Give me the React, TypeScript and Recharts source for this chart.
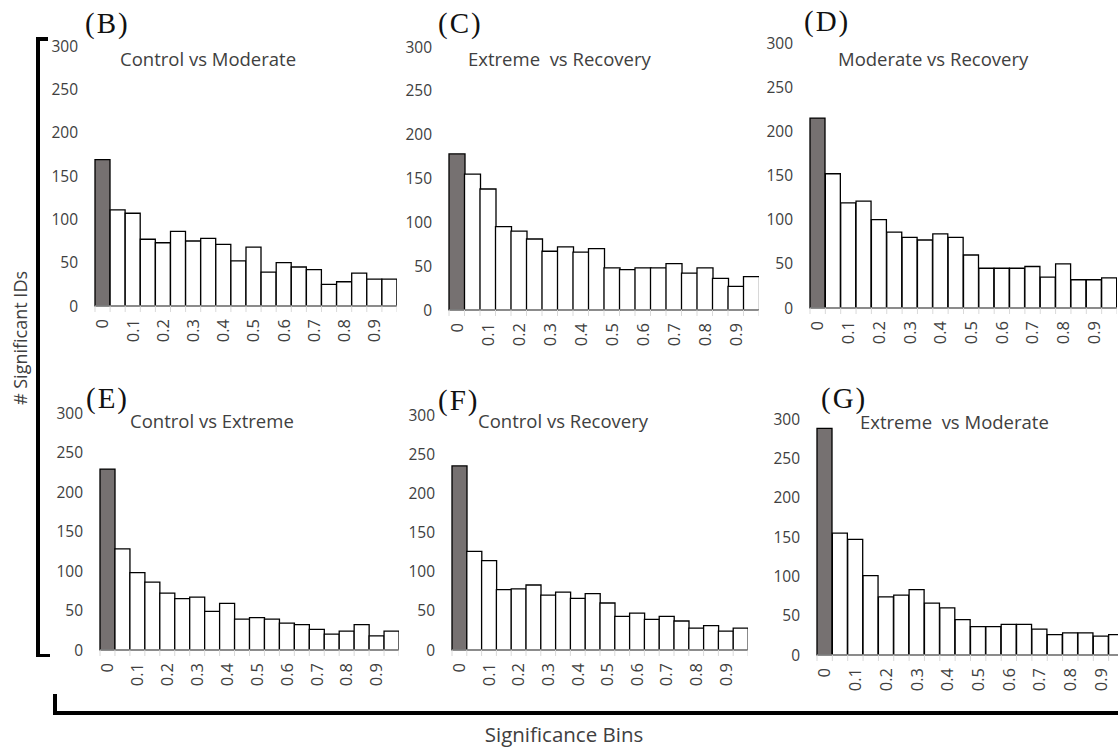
import { Bar, BarChart, Cell, XAxis, YAxis } from "recharts";

const BINS = ["0", "0.05", "0.1", "0.15", "0.2", "0.25", "0.3", "0.35", "0.4", "0.45", "0.5", "0.55", "0.6", "0.65", "0.7", "0.75", "0.8", "0.85", "0.9", "0.95"];
const Y_TICKS = [0, 50, 100, 150, 200, 250, 300];

// counts per significance bin
const controlVsModerate = [169, 111, 107, 77, 73, 86, 75, 78, 71, 52, 68, 39, 50, 45, 42, 25, 28, 38, 31, 31];
const extremeVsRecovery = [178, 155, 138, 95, 90, 81, 67, 72, 66, 70, 48, 46, 48, 48, 53, 42, 48, 36, 27, 38];
const moderateVsRecovery = [215, 152, 119, 121, 100, 86, 80, 77, 84, 80, 60, 45, 45, 45, 47, 35, 50, 32, 32, 34];
const controlVsExtreme = [229, 128, 98, 86, 72, 65, 67, 49, 59, 39, 41, 39, 34, 32, 26, 20, 24, 32, 18, 24];
const controlVsRecovery = [235, 126, 114, 77, 78, 83, 70, 74, 66, 72, 60, 43, 47, 39, 43, 37, 28, 31, 24, 28];
const extremeVsModerate = [288, 155, 147, 101, 74, 76, 83, 66, 60, 45, 36, 36, 39, 39, 33, 26, 28, 28, 24, 26];

const FONT = "'Open Sans', sans-serif";
const TEXT = "#404040";
const Y_W = 60;
const TOP_PAD = 12;
const X_H = 50;

interface PanelProps {
	tag: string;
	title: string;
	values: number[];
	left: number; // plot area left
	right: number;
	top: number; // y of 300
	base: number; // y of 0
	tagPos: [number, number];
	titlePos: [number, number];
}

function Panel({ tag, title, values, left, right, top, base, tagPos, titlePos }: PanelProps) {
	const data = BINS.map((bin, i) => ({ bin, v: values[i] }));
	const plotW = right - left;
	const plotH = base - top;
	const band = plotW / BINS.length;

	const renderTick = (props: any) => {
		const { x, y, index, payload } = props;
		const lx = x - band / 2;
		return (
			<g>
				<line x1={lx} x2={lx} y1={y} y2={y + 6} stroke="#d9d9d9" />
				{index === BINS.length - 1 && (
					<line x1={x + band / 2} x2={x + band / 2} y1={y} y2={y + 6} stroke="#d9d9d9" />
				)}
				{index % 2 === 0 && (
					<text
						x={x}
						y={y + 13}
						dy="0.35em"
						textAnchor="end"
						transform={`rotate(-90, ${x}, ${y + 13})`}
						fontSize={16.5}
						fontFamily={FONT}
						fill={TEXT}
					>
						{payload.value}
					</text>
				)}
			</g>
		);
	};

	return (
		<>
			<div
				style={{
					position: "absolute",
					left: tagPos[0],
					top: tagPos[1],
					fontFamily: "'Liberation Serif', serif",
					fontSize: 29,
					letterSpacing: 2,
					lineHeight: 1,
					color: "#111",
				}}
			>
				{tag}
			</div>
			<div
				style={{
					position: "absolute",
					left: titlePos[0],
					top: titlePos[1],
					fontFamily: FONT,
					fontSize: 18.5,
					lineHeight: 1,
					color: TEXT,
					whiteSpace: "pre",
				}}
			>
				{title}
			</div>
			<div style={{ position: "absolute", left: left - Y_W, top: top - TOP_PAD }}>
				<BarChart
					width={Y_W + plotW}
					height={TOP_PAD + plotH + X_H}
					data={data}
					margin={{ top: TOP_PAD, right: 0, bottom: 0, left: 0 }}
					barCategoryGap={0}
					barGap={0}
				>
					<XAxis
						dataKey="bin"
						interval={0}
						height={X_H}
						axisLine={{ stroke: "#d9d9d9" }}
						tickLine={false}
						tickSize={0}
						tickMargin={0}
						tick={renderTick}
					/>
					<YAxis
						domain={[0, 300]}
						ticks={Y_TICKS}
						width={Y_W}
						axisLine={false}
						tickLine={false}
						tickSize={0}
						tickMargin={17}
						tick={{ fontSize: 15.5, fontFamily: FONT, fill: TEXT }}
					/>
					<Bar dataKey="v" fill="#fff" stroke="#000" strokeWidth={1.3} isAnimationActive={false}>
						{data.map((d, i) => (
							<Cell key={d.bin} fill={i === 0 ? "#767171" : "#fff"} />
						))}
					</Bar>
				</BarChart>
			</div>
		</>
	);
}

export default function App() {
	return (
		<div
			style={{
				position: "absolute",
				left: 0,
				top: 0,
				width: 1118,
				height: 749,
				overflow: "hidden",
				background: "#fff",
			}}
		>
			<Panel tag="(B)" title="Control vs Moderate" values={controlVsModerate} left={95} right={397} top={46} base={306} tagPos={[85, 9]} titlePos={[120, 50]} />
			<Panel tag="(C)" title="Extreme  vs Recovery" values={extremeVsRecovery} left={449} right={759} top={47} base={310} tagPos={[438, 9]} titlePos={[468, 50]} />
			<Panel tag="(D)" title="Moderate vs Recovery" values={moderateVsRecovery} left={810} right={1117} top={43} base={308} tagPos={[804, 7]} titlePos={[838, 50]} />
			<Panel tag="(E)" title="Control vs Extreme" values={controlVsExtreme} left={100} right={399} top={413} base={650} tagPos={[86, 384]} titlePos={[130, 412]} />
			<Panel tag="(F)" title="Control vs Recovery" values={controlVsRecovery} left={452} right={748} top={415} base={650} tagPos={[438, 386]} titlePos={[478, 412]} />
			<Panel tag="(G)" title="Extreme  vs Moderate" values={extremeVsModerate} left={817} right={1124} top={419} base={655} tagPos={[821, 384]} titlePos={[860, 413]} />

			{/* left bracket */}
			<div style={{ position: "absolute", left: 36, top: 37, width: 3.5, height: 620, background: "#000" }} />
			<div style={{ position: "absolute", left: 36, top: 37, width: 12, height: 3.5, background: "#000" }} />
			<div style={{ position: "absolute", left: 36, top: 653.5, width: 14, height: 3.5, background: "#000" }} />
			<div
				style={{
					position: "absolute",
					left: 20,
					top: 338,
					transform: "translate(-50%, -50%) rotate(-90deg)",
					fontFamily: FONT,
					fontSize: 18,
					color: TEXT,
					whiteSpace: "nowrap",
					lineHeight: 1,
				}}
			>
				# Significant IDs
			</div>

			{/* bottom bracket */}
			<div style={{ position: "absolute", left: 53, top: 694, width: 3.5, height: 21, background: "#000" }} />
			<div style={{ position: "absolute", left: 53, top: 711, width: 1070, height: 4, background: "#000" }} />
			<div
				style={{
					position: "absolute",
					left: 564,
					top: 734,
					transform: "translate(-50%, -50%)",
					fontFamily: FONT,
					fontSize: 20.5,
					color: TEXT,
					whiteSpace: "nowrap",
					lineHeight: 1,
				}}
			>
				Significance Bins
			</div>
		</div>
	);
}
